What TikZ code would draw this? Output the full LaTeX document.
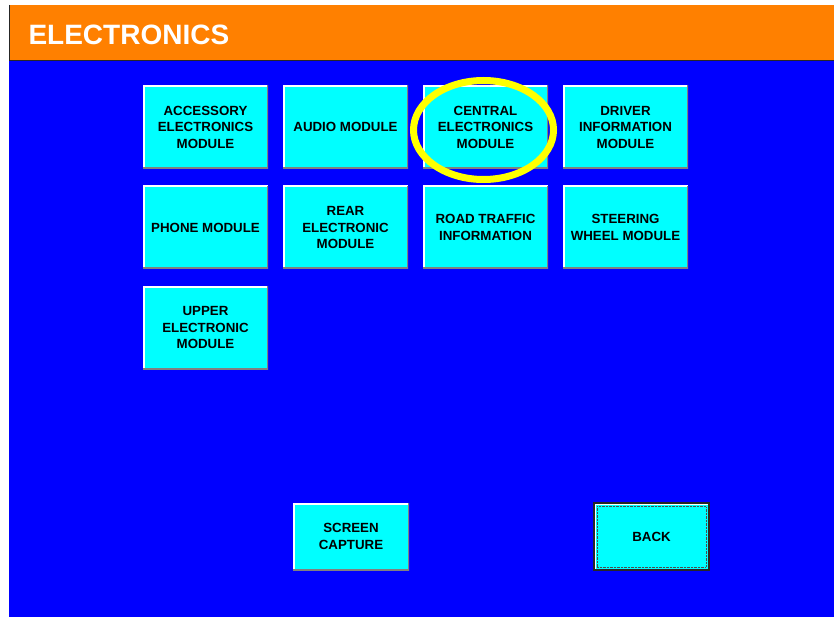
\documentclass[tikz,border=0pt]{standalone}
\usepackage{fontspec}
\setmainfont{Liberation Sans}
\usepackage{xcolor}
\definecolor{hdrorange}{RGB}{255,128,0}
\definecolor{scrblue}{RGB}{0,0,255}
\definecolor{btncyan}{RGB}{0,255,255}
\definecolor{btngray}{RGB}{128,128,128}
\definecolor{markyellow}{RGB}{255,255,0}

\tikzset{
  modbtn/.style={fill=btncyan, inner sep=0pt, minimum width=125pt, minimum height=83pt,
    align=center, font=\fontsize{13.3}{16.5}\selectfont\bfseries,
    path picture={
      \draw[white, line width=3pt] (path picture bounding box.south west) |- (path picture bounding box.north east);
      \draw[btngray, line width=3pt] (path picture bounding box.south west) -| (path picture bounding box.north east);
    }},
  cmdbtn/.style={modbtn, minimum width=116pt, minimum height=67pt},
  ring/.style={draw=markyellow, line width=7pt}
}

\begin{document}
\begin{tikzpicture}[x=1pt, y=-1pt]
\useasboundingbox[fill=white] (0,0) rectangle (834,617);
% screen
\fill[scrblue] (9,61) rectangle (834,617);
\fill[hdrorange] (9,5) rectangle (834,60);
\draw[black!85, line width=1pt] (9.5,5) -- (9.5,60.5) -- (834,60.5);
\node[anchor=west, text=white, font=\fontsize{28}{30}\selectfont\bfseries] (title) at (25,34.5) {ELECTRONICS};
%
\node[modbtn] (aem) at (205.5,127) {ACCESSORY\\ELECTRONICS\\MODULE};
\node[modbtn] (am) at (345.5,127) {AUDIO MODULE};
\node[modbtn] (cem) at (485.5,127) {CENTRAL\\ELECTRONICS\\MODULE};
\node[modbtn] (dim) at (625.5,127) {DRIVER\\INFORMATION\\MODULE};
\node[modbtn] (pm) at (205.5,227.5) {PHONE MODULE};
\node[modbtn] (rem) at (345.5,227.5) {REAR\\ELECTRONIC\\MODULE};
\node[modbtn] (rti) at (485.5,227.5) {ROAD TRAFFIC\\INFORMATION};
\node[modbtn] (swm) at (625.5,227.5) {STEERING\\WHEEL MODULE};
\node[modbtn] (uem) at (205.5,327.5) {UPPER\\ELECTRONIC\\MODULE};
%
\node[cmdbtn] (capture) at (351,536.5) {SCREEN\\CAPTURE};
\node[cmdbtn, minimum width=115pt, draw=black!85, line width=1.5pt] (back) at (651.5,536.5) {BACK};
\draw[densely dotted, black!70] ([shift={(4,4)}]back.north west) rectangle ([shift={(-4,-4)}]back.south east);
%
\draw[ring] ([shift={(-2,3)}]cem.center) ellipse [x radius=70, y radius=49.5];
\end{tikzpicture}
\end{document}
